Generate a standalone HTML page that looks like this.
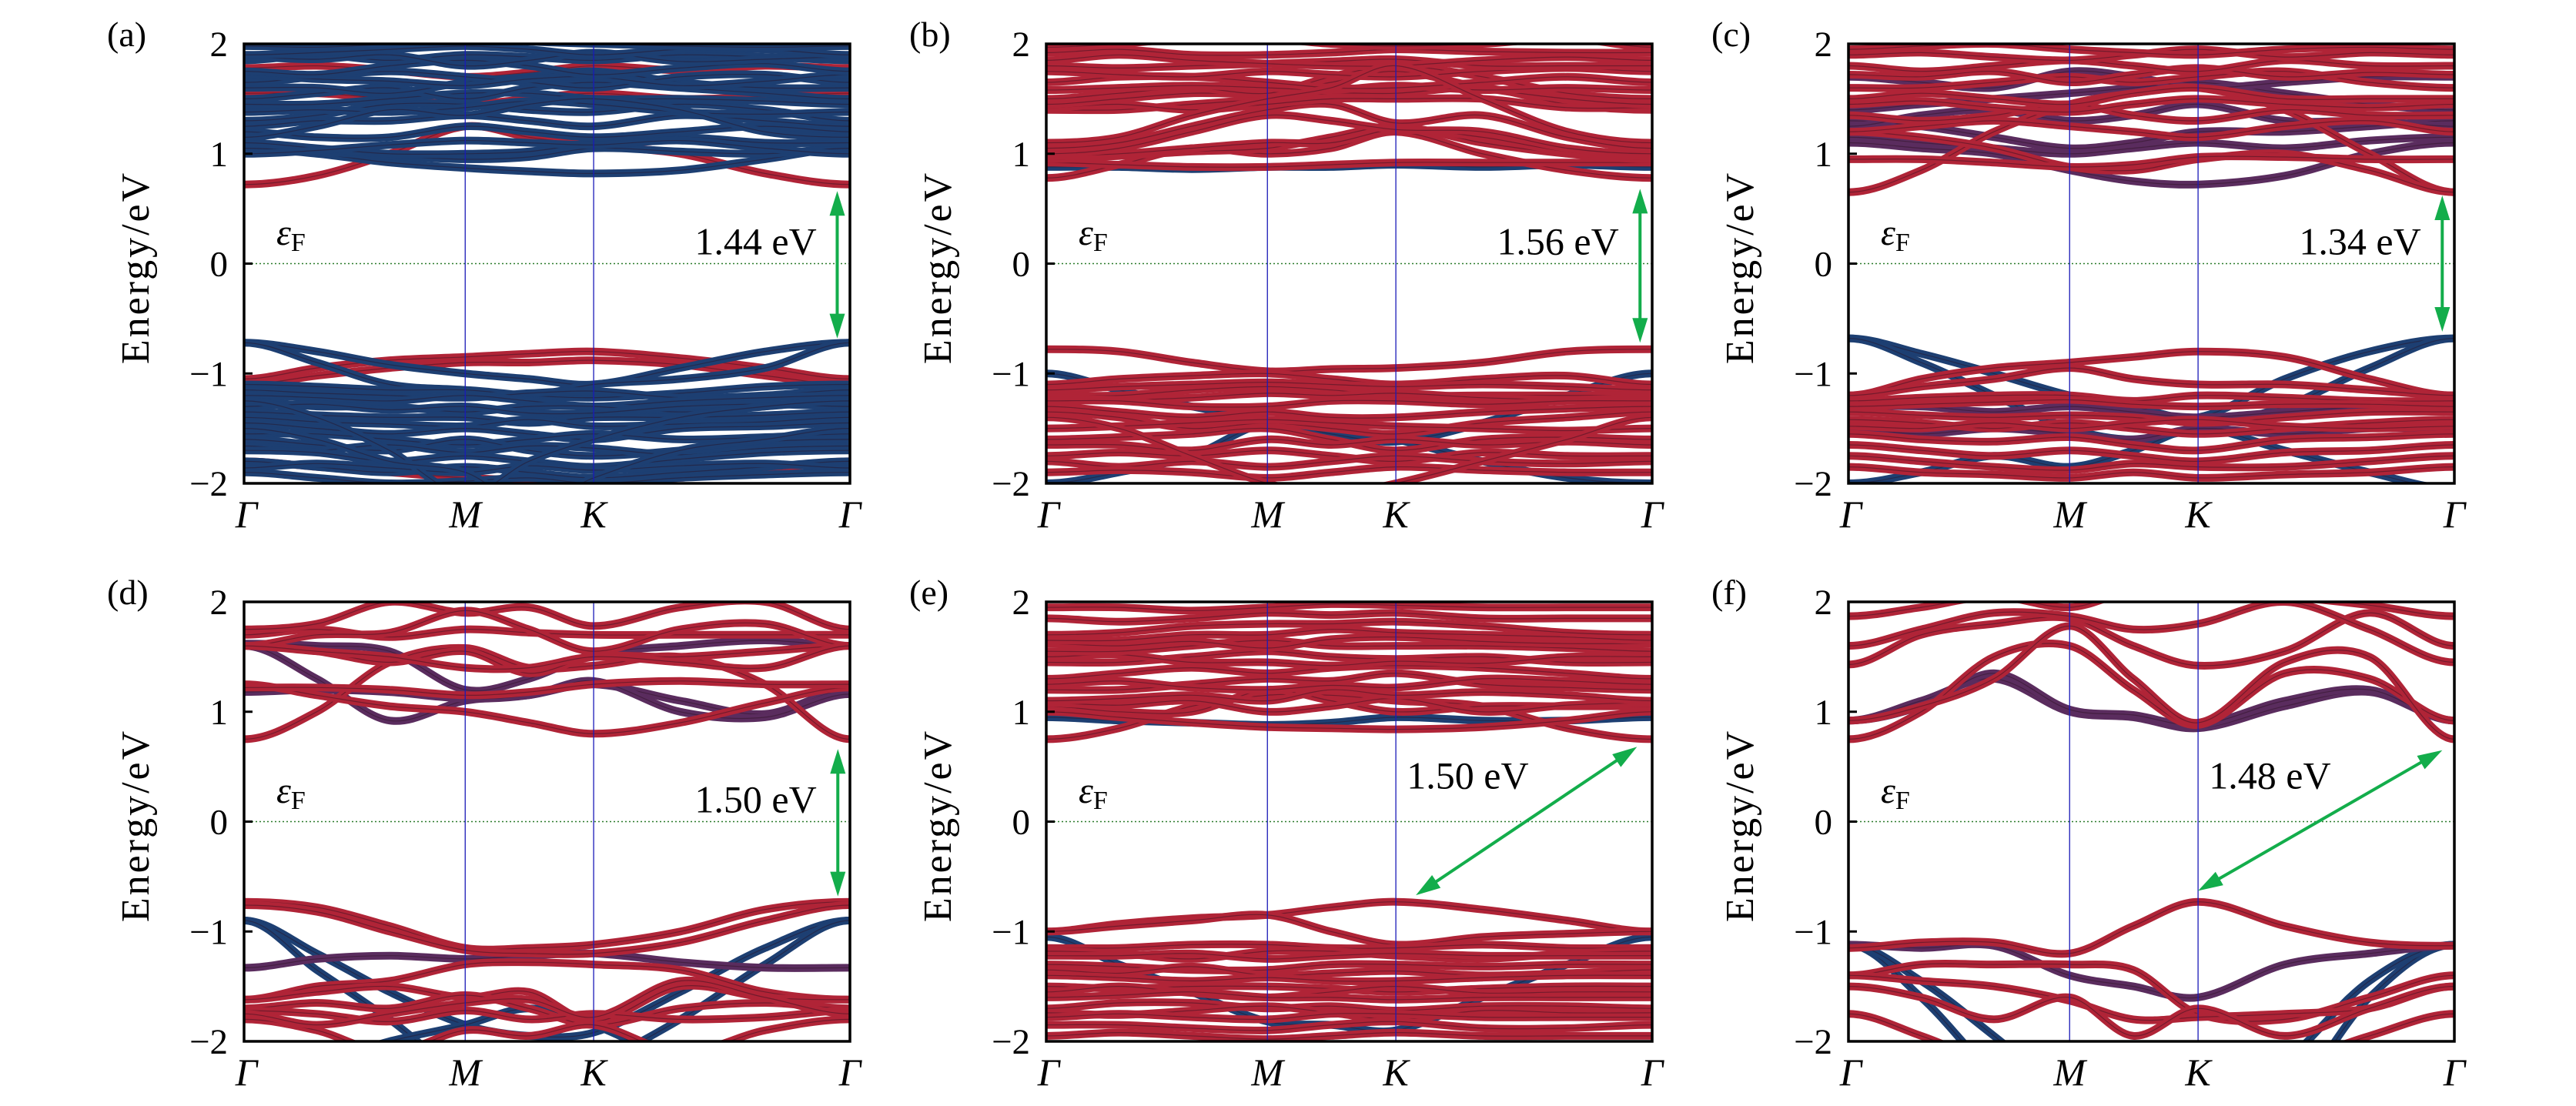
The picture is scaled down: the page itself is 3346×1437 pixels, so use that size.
<!DOCTYPE html>
<html><head><meta charset="utf-8"><title>Band structures</title>
<style>
html,body{margin:0;padding:0;background:#fff;}
svg{display:block;}
text{font-family:"Liberation Serif",serif;fill:#000;}
</style></head>
<body>
<svg id="fig" width="3346" height="1437" viewBox="0 0 3346 1437" xmlns="http://www.w3.org/2000/svg"></svg>
<script>
// k-path node positions (fraction of path) and symmetry points
const kNodes = [0, 0.12, 0.24, 0.365, 0.47, 0.577, 0.72, 0.86, 1];
const kLabels = ["Γ", "M", "K", "Γ"];
const kLabelPos = [0, 0.365, 0.577, 1];
const yTicks = [2, 1, 0, -1, -2];
const yTickLabels = ["2", "1", "0", "−1", "−2"];
const panelLetters = ["(a)", "(b)", "(c)", "(d)", "(e)", "(f)"];
const gapLabels = ["1.44 eV", "1.56 eV", "1.34 eV", "1.50 eV", "1.50 eV", "1.48 eV"];
// gap arrows: [k_start, E_start, k_end, E_end]
const gapArrowA = [0.979, 0.66, 0.979, -0.68];
const gapArrowB = [0.98, 0.68, 0.98, -0.72];
const gapArrowC = [0.98, 0.62, 0.98, -0.62];
const gapArrowD = [0.98, 0.66, 0.98, -0.68];
const gapArrowE = [0.975, 0.68, 0.61, -0.67];
const gapArrowF = [0.98, 0.65, 0.577, -0.63];

// ---------- panel (a) ----------
const aRed = [
[0.72,0.8,1.0,1.25,1.15,1.08,1.0,0.82,0.72],
[-1.05,-0.95,-0.88,-0.85,-0.82,-0.8,-0.86,-0.95,-1.05],
[-1.1,-1.02,-0.95,-0.9,-0.9,-0.88,-0.92,-1.02,-1.1],
[-1.8,-1.85,-1.9,-1.95,-1.97,-1.98,-1.95,-1.88,-1.8],
[1.55,1.55,1.5,1.45,1.5,1.55,1.5,1.52,1.55],
[1.78,1.8,1.76,1.7,1.74,1.8,1.76,1.8,1.78]
];
const aBlue = [
[1.05,1.0,0.92,0.87,0.84,0.82,0.85,0.95,1.05],
[1.05,1.02,0.98,0.95,0.97,1.05,1.02,1.0,1.05],
[1.1,1.05,1.0,1.0,1.02,1.1,1.15,1.1,1.1],
[1.0,1.03,1.08,1.12,1.1,1.08,1.12,1.05,1.0],
[1.2,1.15,1.15,1.25,1.2,1.15,1.2,1.25,1.2],
[1.25,1.3,1.3,1.35,1.3,1.25,1.35,1.3,1.25],
[1.3,1.35,1.45,1.45,1.4,1.38,1.45,1.4,1.3],
[1.38,1.4,1.38,1.42,1.48,1.45,1.38,1.36,1.38],
[1.45,1.45,1.5,1.55,1.55,1.5,1.5,1.48,1.45],
[1.5,1.55,1.6,1.5,1.6,1.65,1.6,1.55,1.5],
[1.6,1.6,1.55,1.65,1.7,1.75,1.65,1.6,1.6],
[1.65,1.7,1.75,1.7,1.65,1.6,1.7,1.72,1.65],
[1.72,1.68,1.66,1.62,1.68,1.7,1.62,1.66,1.72],
[1.75,1.72,1.8,1.85,1.8,1.72,1.78,1.82,1.75],
[1.85,1.9,1.85,1.9,1.88,1.85,1.9,1.88,1.85],
[1.88,1.86,1.9,1.8,1.85,1.92,1.84,1.86,1.88],
[1.9,1.92,1.95,1.98,1.95,1.9,1.95,1.95,1.9],
[1.98,1.97,2.0,2.05,2.02,2.0,1.98,1.97,1.98],
[1.15,1.25,1.4,1.35,1.45,1.5,1.4,1.2,1.15],
[-0.72,-0.8,-0.92,-1.0,-1.05,-1.1,-0.95,-0.8,-0.72],
[-0.72,-0.9,-1.1,-1.15,-1.2,-1.1,-1.05,-0.95,-0.72],
[-1.1,-1.12,-1.15,-1.15,-1.2,-1.22,-1.18,-1.12,-1.1],
[-1.15,-1.18,-1.2,-1.22,-1.18,-1.16,-1.22,-1.2,-1.15],
[-1.2,-1.22,-1.25,-1.2,-1.25,-1.3,-1.25,-1.22,-1.2],
[-1.25,-1.3,-1.3,-1.35,-1.3,-1.3,-1.35,-1.3,-1.25],
[-1.3,-1.28,-1.33,-1.3,-1.36,-1.36,-1.3,-1.28,-1.3],
[-1.35,-1.38,-1.4,-1.4,-1.45,-1.4,-1.4,-1.38,-1.35],
[-1.4,-1.44,-1.46,-1.48,-1.42,-1.48,-1.46,-1.44,-1.4],
[-1.45,-1.5,-1.55,-1.5,-1.55,-1.6,-1.5,-1.48,-1.45],
[-1.55,-1.55,-1.6,-1.65,-1.6,-1.55,-1.6,-1.58,-1.55],
[-1.6,-1.65,-1.7,-1.6,-1.7,-1.75,-1.7,-1.62,-1.6],
[-1.66,-1.7,-1.65,-1.72,-1.66,-1.68,-1.74,-1.68,-1.66],
[-1.7,-1.72,-1.8,-1.75,-1.8,-1.85,-1.78,-1.72,-1.7],
[-1.8,-1.85,-1.9,-1.85,-1.9,-1.95,-1.9,-1.85,-1.8],
[-1.86,-1.82,-1.86,-1.9,-1.84,-1.88,-1.84,-1.82,-1.86],
[-1.9,-1.95,-2.0,-1.98,-1.95,-2.0,-1.95,-1.92,-1.9],
[-1.25,-1.4,-1.7,-2.1,-1.8,-1.6,-1.4,-1.3,-1.25],
[-1.5,-1.6,-1.8,-1.9,-2.2,-1.95,-1.7,-1.6,-1.5]
];
const aPurple = [];

// ---------- panel (b) ----------
const bBlue = [
[0.88,0.88,0.86,0.88,0.88,0.9,0.88,0.9,0.88],
[-1.0,-1.15,-1.3,-1.42,-1.5,-1.6,-1.8,-1.95,-2.0],
[-2.0,-1.9,-1.75,-1.45,-1.55,-1.62,-1.45,-1.2,-1.0]
];
const bRed = [
[0.78,0.9,1.05,1.0,1.05,1.2,1.0,0.85,0.78],
[0.92,0.9,0.88,0.88,0.9,0.92,0.92,0.92,0.92],
[0.95,0.98,1.02,1.05,1.15,1.25,1.1,1.0,0.95],
[0.98,1.0,1.05,1.1,1.1,1.22,1.15,1.02,0.98],
[1.0,1.05,1.2,1.35,1.3,1.22,1.2,1.05,1.0],
[1.05,1.1,1.25,1.4,1.45,1.28,1.35,1.15,1.05],
[1.4,1.4,1.45,1.5,1.55,1.55,1.6,1.45,1.4],
[1.42,1.45,1.4,1.45,1.5,1.5,1.5,1.42,1.42],
[1.45,1.5,1.55,1.55,1.65,1.75,1.6,1.5,1.45],
[1.5,1.55,1.6,1.55,1.7,1.8,1.7,1.55,1.5],
[1.58,1.6,1.62,1.6,1.58,1.62,1.58,1.6,1.58],
[1.65,1.7,1.7,1.65,1.6,1.6,1.65,1.7,1.65],
[1.75,1.72,1.7,1.75,1.72,1.7,1.75,1.78,1.75],
[1.8,1.78,1.8,1.82,1.84,1.86,1.8,1.8,1.8],
[1.85,1.9,1.85,1.82,1.8,1.8,1.85,1.88,1.85],
[1.92,1.95,1.9,1.9,1.92,1.95,1.93,1.92,1.92],
[1.97,2.0,2.05,2.05,2.0,1.98,2.0,2.05,1.97],
[1.1,1.15,1.35,1.5,1.6,1.8,1.5,1.2,1.1],
[-0.78,-0.8,-0.9,-0.98,-0.96,-0.95,-0.9,-0.8,-0.78],
[-1.1,-1.05,-1.02,-1.0,-1.05,-1.1,-1.05,-1.02,-1.1],
[-1.15,-1.12,-1.1,-1.08,-1.1,-1.12,-1.1,-1.12,-1.15],
[-1.2,-1.2,-1.15,-1.12,-1.15,-1.2,-1.2,-1.2,-1.2],
[-1.22,-1.24,-1.22,-1.18,-1.2,-1.18,-1.22,-1.24,-1.22],
[-1.25,-1.25,-1.3,-1.3,-1.25,-1.25,-1.28,-1.25,-1.25],
[-1.3,-1.35,-1.4,-1.35,-1.4,-1.4,-1.35,-1.32,-1.3],
[-1.35,-1.4,-1.5,-1.45,-1.5,-1.55,-1.45,-1.4,-1.35],
[-1.5,-1.48,-1.45,-1.42,-1.45,-1.48,-1.5,-1.52,-1.5],
[-1.6,-1.58,-1.55,-1.5,-1.6,-1.7,-1.6,-1.58,-1.6],
[-1.65,-1.65,-1.7,-1.6,-1.65,-1.6,-1.65,-1.62,-1.65],
[-1.75,-1.72,-1.75,-1.7,-1.75,-1.8,-1.72,-1.75,-1.75],
[-1.8,-1.85,-1.8,-1.85,-1.8,-1.75,-1.8,-1.82,-1.8],
[-1.9,-1.88,-1.9,-1.95,-1.9,-1.85,-1.88,-1.9,-1.9],
[-1.4,-1.5,-1.75,-2.0,-2.1,-2.0,-1.8,-1.6,-1.4]
];
const bPurple = [];

// ---------- panel (c) ----------
const cBlue = [
[-0.68,-0.82,-1.0,-1.2,-1.3,-1.4,-1.05,-0.8,-0.68],
[-0.68,-0.9,-1.2,-1.5,-1.6,-1.5,-1.3,-0.95,-0.68],
[-2.0,-1.9,-1.75,-1.85,-1.7,-1.5,-1.7,-1.9,-2.05]
];
const cPurple = [
[1.1,1.05,1.0,0.85,0.75,0.72,0.8,1.0,1.1],
[1.15,1.1,1.05,1.0,1.05,1.1,1.05,1.12,1.15],
[1.3,1.25,1.15,1.05,1.1,1.2,1.2,1.25,1.3],
[1.4,1.45,1.5,1.55,1.6,1.65,1.55,1.45,1.4],
[1.7,1.65,1.6,1.75,1.7,1.6,1.65,1.7,1.7],
[1.25,1.35,1.4,1.3,1.35,1.45,1.3,1.3,1.25],
[-1.3,-1.3,-1.35,-1.3,-1.35,-1.4,-1.35,-1.3,-1.3],
[-1.5,-1.55,-1.5,-1.55,-1.6,-1.5,-1.55,-1.5,-1.5]
];
const cRed = [
[0.65,0.85,1.2,1.45,1.55,1.6,1.4,1.0,0.65],
[1.2,1.15,1.05,0.88,0.85,0.95,1.0,0.85,0.65],
[0.95,0.95,0.92,0.88,0.9,0.97,0.97,0.95,0.95],
[1.2,1.25,1.3,1.25,1.2,1.15,1.25,1.3,1.2],
[1.35,1.3,1.35,1.45,1.35,1.3,1.4,1.35,1.35],
[1.45,1.48,1.42,1.38,1.45,1.5,1.45,1.42,1.45],
[1.5,1.55,1.5,1.45,1.55,1.6,1.5,1.5,1.5],
[1.6,1.6,1.65,1.7,1.65,1.7,1.75,1.65,1.6],
[1.72,1.7,1.75,1.65,1.72,1.78,1.7,1.74,1.72],
[1.8,1.75,1.8,1.85,1.8,1.75,1.85,1.8,1.8],
[1.9,1.92,1.88,1.85,1.9,1.95,1.88,1.92,1.9],
[1.95,1.98,2.0,1.95,1.92,1.9,1.95,1.97,1.95],
[-1.2,-1.05,-0.95,-0.9,-0.85,-0.8,-0.85,-1.05,-1.2],
[-1.2,-1.12,-1.05,-0.95,-1.05,-1.1,-1.1,-1.15,-1.2],
[-1.25,-1.22,-1.2,-1.2,-1.25,-1.2,-1.22,-1.25,-1.25],
[-1.3,-1.28,-1.26,-1.24,-1.28,-1.3,-1.28,-1.28,-1.3],
[-1.35,-1.38,-1.4,-1.38,-1.4,-1.45,-1.4,-1.35,-1.35],
[-1.42,-1.45,-1.5,-1.45,-1.5,-1.55,-1.5,-1.45,-1.42],
[-1.48,-1.5,-1.45,-1.5,-1.45,-1.42,-1.48,-1.5,-1.48],
[-1.55,-1.6,-1.62,-1.58,-1.65,-1.7,-1.6,-1.58,-1.55],
[-1.65,-1.7,-1.75,-1.7,-1.75,-1.8,-1.72,-1.7,-1.65],
[-1.75,-1.8,-1.85,-1.88,-1.82,-1.85,-1.85,-1.8,-1.75],
[-1.85,-1.9,-1.92,-1.95,-1.9,-1.95,-1.92,-1.9,-1.85]
];

// ---------- panel (d) ----------
const dBlue = [
[-0.9,-1.2,-1.55,-1.85,-1.95,-1.92,-1.55,-1.15,-0.9],
[-0.9,-1.35,-1.8,-2.3,-2.3,-2.2,-1.8,-1.3,-0.9],
[-2.3,-2.2,-2.0,-1.85,-1.7,-1.85,-2.2,-2.4,-2.5]
];
const dPurple = [
[1.6,1.3,0.92,1.1,1.15,1.25,1.1,0.98,1.2],
[1.18,1.2,1.18,1.12,1.15,1.28,1.0,0.95,1.16],
[1.62,1.6,1.55,1.2,1.3,1.52,1.6,1.65,1.6],
[-1.33,-1.25,-1.22,-1.25,-1.22,-1.2,-1.28,-1.33,-1.33]
];
const dRed = [
[0.75,1.0,1.45,1.58,1.4,1.42,1.5,1.25,0.75],
[1.25,1.15,1.05,1.0,0.9,0.8,0.9,1.08,1.22],
[1.22,1.22,1.2,1.15,1.18,1.25,1.28,1.25,1.25],
[1.6,1.55,1.45,1.55,1.35,1.5,1.5,1.55,1.6],
[1.7,1.75,1.68,1.75,1.72,1.7,1.7,1.7,1.7],
[1.75,1.8,2.0,1.9,1.95,1.78,1.95,2.0,1.75],
[1.6,1.7,1.72,1.92,1.75,1.55,1.75,1.8,1.6],
[1.6,1.55,1.5,1.4,1.4,1.5,1.45,1.4,1.6],
[-0.73,-0.78,-0.95,-1.15,-1.15,-1.12,-1.0,-0.8,-0.73],
[-0.76,-0.82,-1.0,-1.17,-1.2,-1.2,-1.1,-0.9,-0.76],
[-1.62,-1.5,-1.45,-1.3,-1.28,-1.3,-1.35,-1.55,-1.62],
[-1.62,-1.55,-1.5,-1.6,-1.55,-1.82,-1.5,-1.6,-1.62],
[-1.7,-1.65,-1.7,-1.58,-1.7,-1.85,-1.7,-1.65,-1.7],
[-1.72,-1.75,-1.82,-1.72,-1.8,-1.75,-1.8,-1.78,-1.72],
[-1.8,-1.9,-2.1,-1.9,-1.95,-1.85,-2.1,-1.9,-1.8],
[-1.75,-1.85,-1.75,-1.65,-1.62,-1.78,-1.45,-1.6,-1.75]
];

// ---------- panel (e) ----------
const eBlue = [
[-1.05,-1.3,-1.55,-1.82,-1.85,-1.9,-1.6,-1.3,-1.05],
[0.95,0.92,0.9,0.88,0.9,0.95,0.92,0.92,0.95]
];
const ePurple = [];
const eRed = [
[0.75,0.85,1.05,1.15,1.15,1.1,1.05,0.85,0.75],
[1.0,0.95,0.9,0.86,0.85,0.84,0.86,0.92,1.0],
[1.05,1.0,1.0,1.2,1.1,1.0,1.05,1.05,1.05],
[1.08,1.06,1.1,1.0,1.05,1.12,1.0,1.06,1.08],
[1.1,1.12,1.15,1.1,1.2,1.15,1.18,1.15,1.1],
[1.2,1.2,1.25,1.3,1.28,1.35,1.25,1.22,1.2],
[1.25,1.28,1.22,1.2,1.24,1.22,1.3,1.28,1.25],
[1.3,1.35,1.4,1.35,1.4,1.42,1.4,1.35,1.3],
[1.45,1.45,1.5,1.55,1.5,1.48,1.5,1.45,1.45],
[1.5,1.52,1.45,1.45,1.42,1.46,1.44,1.5,1.5],
[1.55,1.55,1.6,1.65,1.6,1.6,1.6,1.58,1.55],
[1.62,1.6,1.64,1.58,1.66,1.68,1.64,1.62,1.62],
[1.65,1.65,1.7,1.7,1.75,1.72,1.7,1.68,1.65],
[1.7,1.72,1.78,1.8,1.8,1.82,1.78,1.72,1.7],
[1.85,1.82,1.85,1.9,1.88,1.9,1.85,1.85,1.85],
[1.95,1.95,1.92,1.95,1.98,1.97,1.95,1.95,1.95],
[-1.0,-0.93,-0.88,-0.85,-0.78,-0.73,-0.8,-0.9,-1.0],
[-1.0,-0.95,-0.9,-0.85,-1.0,-1.12,-1.05,-1.02,-1.0],
[-1.15,-1.15,-1.12,-1.12,-1.15,-1.15,-1.12,-1.15,-1.15],
[-1.18,-1.2,-1.25,-1.18,-1.18,-1.22,-1.25,-1.2,-1.18],
[-1.22,-1.22,-1.2,-1.25,-1.22,-1.2,-1.22,-1.22,-1.22],
[-1.3,-1.32,-1.35,-1.35,-1.3,-1.3,-1.32,-1.3,-1.3],
[-1.35,-1.38,-1.32,-1.4,-1.38,-1.36,-1.4,-1.38,-1.35],
[-1.4,-1.42,-1.45,-1.42,-1.45,-1.45,-1.42,-1.4,-1.4],
[-1.5,-1.52,-1.5,-1.5,-1.52,-1.55,-1.52,-1.5,-1.5],
[-1.55,-1.5,-1.56,-1.6,-1.55,-1.5,-1.56,-1.55,-1.55],
[-1.6,-1.58,-1.55,-1.6,-1.6,-1.62,-1.6,-1.6,-1.6],
[-1.7,-1.65,-1.65,-1.7,-1.68,-1.72,-1.68,-1.68,-1.7],
[-1.74,-1.76,-1.72,-1.68,-1.74,-1.8,-1.72,-1.74,-1.74],
[-1.78,-1.75,-1.78,-1.8,-1.75,-1.75,-1.78,-1.78,-1.78],
[-1.85,-1.85,-1.88,-1.9,-1.85,-1.82,-1.88,-1.88,-1.85],
[-1.95,-1.92,-1.95,-1.98,-1.95,-1.92,-1.95,-1.95,-1.95]
];

// ---------- panel (f) ----------
const fBlue = [
[-1.12,-1.6,-2.3,-2.8,-3.0,-3.0,-2.6,-1.6,-1.12],
[-1.12,-1.45,-1.95,-2.5,-2.8,-2.8,-2.2,-1.45,-1.12]
];
const fPurple = [
[0.92,1.1,1.3,1.0,0.95,0.85,1.05,1.18,0.92],
[0.92,1.05,1.35,1.02,0.97,0.88,1.1,1.2,0.92],
[-1.12,-1.15,-1.13,-1.4,-1.5,-1.6,-1.3,-1.2,-1.13]
];
const fRed = [
[0.75,1.0,1.5,1.6,1.2,0.88,1.35,1.3,0.92],
[0.92,1.05,1.3,1.78,1.3,0.9,1.45,1.5,0.75],
[1.43,1.7,1.8,1.85,1.6,1.42,1.55,1.9,1.6],
[1.6,1.75,1.9,1.87,1.75,1.8,2.0,1.75,1.45],
[1.87,1.95,2.05,1.95,2.1,2.1,2.05,1.97,1.87],
[-1.15,-1.1,-1.1,-1.2,-0.95,-0.73,-0.95,-1.1,-1.13],
[-1.4,-1.3,-1.3,-1.3,-1.35,-1.75,-1.8,-1.6,-1.4],
[-1.4,-1.45,-1.5,-1.63,-1.8,-1.78,-1.75,-1.7,-1.5],
[-1.5,-1.6,-1.8,-1.6,-1.95,-1.7,-1.95,-1.7,-1.5],
[-1.75,-1.95,-2.2,-2.3,-2.3,-2.3,-2.2,-1.95,-1.75]
];

const panels = [
 {x:317, y:57, red:aRed, blue:aBlue, purple:aPurple, arrow:gapArrowA, blueOnTop:true, textMode:"right"},
 {x:1359, y:57, red:bRed, blue:bBlue, purple:bPurple, arrow:gapArrowB, blueOnTop:false, textMode:"right"},
 {x:2401, y:57, red:cRed, blue:cBlue, purple:cPurple, arrow:gapArrowC, blueOnTop:false, textMode:"right"},
 {x:317, y:782, red:dRed, blue:dBlue, purple:dPurple, arrow:gapArrowD, blueOnTop:false, textMode:"right"},
 {x:1359, y:782, red:eRed, blue:eBlue, purple:ePurple, arrow:gapArrowE, blueOnTop:false, textMode:"diag"},
 {x:2401, y:782, red:fRed, blue:fBlue, purple:fPurple, arrow:gapArrowF, blueOnTop:false, textMode:"diag"}
];
const PW = 787, PH = 571;
const NS = "http://www.w3.org/2000/svg";
const svg = document.getElementById("fig");

function mk(tag, attrs, parent){
  const e = document.createElementNS(NS, tag);
  for (const k in attrs) e.setAttribute(k, attrs[k]);
  (parent||svg).appendChild(e);
  return e;
}
function bandPath(vals, sx, sy){
  const pts = vals.map((v,i)=>[sx(kNodes[i]), sy(v)]);
  let d = "M"+pts[0][0].toFixed(1)+","+pts[0][1].toFixed(1);
  for (let i=0;i<pts.length-1;i++){
    const p0 = pts[Math.max(0,i-1)], p1 = pts[i], p2 = pts[i+1], p3 = pts[Math.min(pts.length-1,i+2)];
    let m1 = (i===0)?0:(p2[1]-p0[1])/(p2[0]-p0[0]);
    let m2 = (i+1===pts.length-1)?0:(p3[1]-p1[1])/(p3[0]-p1[0]);
    const h = p2[0]-p1[0];
    const c1 = [p1[0]+h/3, p1[1]+m1*h/3], c2 = [p2[0]-h/3, p2[1]-m2*h/3];
    d += " C"+c1[0].toFixed(1)+","+c1[1].toFixed(1)+" "+c2[0].toFixed(1)+","+c2[1].toFixed(1)+" "+p2[0].toFixed(1)+","+p2[1].toFixed(1);
  }
  return d;
}

const defs = mk("defs", {});
panels.forEach((p, pi)=>{
  const sx = k => p.x + k*PW;
  const sy = e => p.y + (2 - e)/4*PH;
  const g = mk("g", {});
  
  
  const cp = mk("clipPath", {id:"clip"+pi}, defs);
  mk("rect", {x:p.x, y:p.y, width:PW, height:PH}, cp);

  const fl = mk("line", {x1:p.x, x2:p.x+PW, y1:sy(0), y2:sy(0), stroke:"#2a7a2a", "stroke-width":1.5, "stroke-dasharray":"2,3"}, g);
  
  

  const bg = mk("g", {"clip-path":"url(#clip"+pi+")"}, g);
  
  
  const drawSet = (set, col, name)=>{
    set.forEach(vals=>{
      const d = bandPath(vals, sx, sy);
      const b = mk("path", {d:d, fill:"none", stroke:col, "stroke-width":10, "stroke-linecap":"round"}, bg);
      
      
      mk("path", {d:d, fill:"none", stroke:"#2a0f1e", "stroke-opacity":0.45, "stroke-width":1.2}, bg);
    });
  };
  if (p.blueOnTop){
    drawSet(p.red, "#b02437", "band-red");
    drawSet(p.purple, "#5a2c5e", "band-mixed");
    drawSet(p.blue, "#1d3f72", "band-blue");
  } else {
    drawSet(p.blue, "#1d3f72", "band-blue");
    drawSet(p.purple, "#5a2c5e", "band-mixed");
    drawSet(p.red, "#b02437", "band-red");
  }

  [1,2].forEach(i=>{
    const v = mk("line", {x1:sx(kLabelPos[i]), x2:sx(kLabelPos[i]), y1:p.y, y2:p.y+PH, stroke:"#1a1ab8", "stroke-width":1.3}, g);
    
    
  });

  const fr = mk("rect", {x:p.x, y:p.y, width:PW, height:PH, fill:"none", stroke:"#000", "stroke-width":3.5}, g);
  
  

  yTicks.forEach((t, ti)=>{
    mk("line", {x1:p.x, x2:p.x+11, y1:sy(t), y2:sy(t), stroke:"#000", "stroke-width":3}, g);
    const tl = mk("text", {x:p.x-21, y:sy(t)+16, "font-size":47, "text-anchor":"end"}, g);
    tl.textContent = yTickLabels[ti];
    
    
  });
  kLabels.forEach((lab, li)=>{
    const t = mk("text", {x:sx(kLabelPos[li]) + (li===0?3:0), y:p.y+PH+57, "font-size":50, "font-style":"italic", "text-anchor":"middle"}, g);
    t.textContent = lab;
    
    
  });
  const cy = p.y + PH/2 + 5;
  const yt = mk("text", {x:p.x-140, y:cy, "font-size":52, "text-anchor":"middle", "letter-spacing":"3", transform:"rotate(-90 "+(p.x-140)+" "+cy+")", dy:"16"}, g);
  yt.textContent = "Energy/eV";
  
  
  const pl = mk("text", {x:p.x-178, y:p.y+3, "font-size":46}, g);
  pl.textContent = panelLetters[pi];
  
  
  const ef = mk("text", {x:p.x+42, y:sy(0.17), "font-size":48, "font-style":"italic"}, g);
  ef.textContent = "ε";
  const sub = mk("tspan", {"font-size":34, dy:"8", "font-style":"normal"}, ef);
  sub.textContent = "F";
  
  

  const a = p.arrow;
  const x1 = sx(a[0]), y1 = sy(a[1]), x2 = sx(a[2]), y2 = sy(a[3]);
  const ag = mk("g", {}, g);
  
  
  const ang = Math.atan2(y2-y1, x2-x1), L = 32, W = 10;
  const ux = Math.cos(ang), uy = Math.sin(ang);
  mk("line", {x1:x1+ux*20, y1:y1+uy*20, x2:x2-ux*20, y2:y2-uy*20, stroke:"#13ad4b", "stroke-width":4}, ag);
  const head = (tx, ty, dx, dy)=>{
    const bx = tx - dx*L, by = ty - dy*L;
    mk("polygon", {points:[tx,ty, bx - dy*W, by + dx*W, bx + dy*W, by - dx*W].map(v=>v.toFixed(1)).join(","), fill:"#13ad4b"}, ag);
  };
  head(x2, y2, ux, uy);
  head(x1, y1, -ux, -uy);

  let gt;
  if (p.textMode === "right"){
    gt = mk("text", {x:sx(0.945), y:sy(0.085), "font-size":50, "text-anchor":"end"}, g);
  } else {
    gt = mk("text", {x:sx(0.595), y:sy(0.3), "font-size":50}, g);
  }
  gt.textContent = gapLabels[pi];
  
  
});
</script>
</body></html>
